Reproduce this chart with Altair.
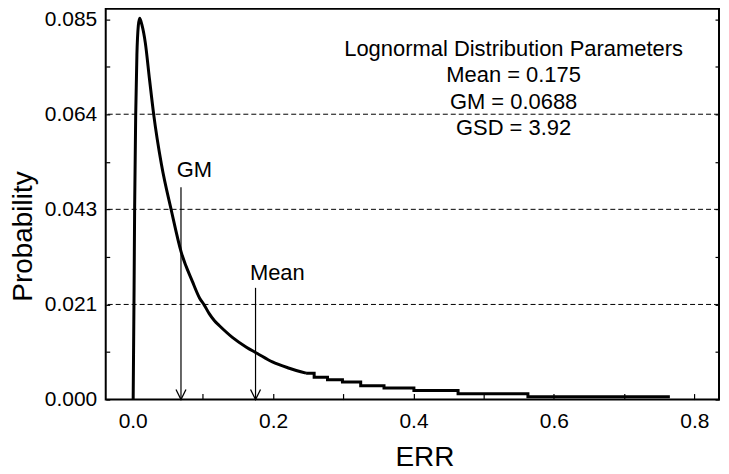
import altair as alt
import pandas as pd

# ---- data ----
# smooth part of the distribution curve
curve_x = [0.0007, 0.002, 0.0028, 0.0043, 0.006, 0.008, 0.010, 0.013, 0.018, 0.024,
           0.030, 0.041, 0.055, 0.069, 0.085, 0.0952, 0.102, 0.109, 0.1165, 0.1236,
           0.142, 0.162, 0.1776, 0.199, 0.223, 0.247]
curve_y = [0.0, 0.025, 0.043, 0.0636, 0.077, 0.0835, 0.0852, 0.0838, 0.0797, 0.0715,
           0.0636, 0.0525, 0.0423, 0.033, 0.0264, 0.0227, 0.0211, 0.0192, 0.0176, 0.0165,
           0.0139, 0.0117, 0.0103, 0.0084, 0.0070, 0.0059]
# stepped tail (step starts)
tail_x = [0.247, 0.2585, 0.2775, 0.2988, 0.3248, 0.358, 0.4006, 0.4635, 0.563, 0.7652]
tail_y = [0.0059, 0.0050, 0.0044, 0.0039, 0.0031, 0.0026, 0.0020, 0.0013, 0.0006, 0.0006]

# axes
y_major = [0.0, 0.02125, 0.0425, 0.06375, 0.085]
y_major_labels = ["0.000", "0.021", "0.043", "0.064", "0.085"]
y_minor = [0.010625, 0.031875, 0.053125, 0.074375]
grid_y = [0.02125, 0.0425, 0.06375]
x_major = [0.0, 0.2, 0.4, 0.6, 0.8]
x_major_labels = ["0.0", "0.2", "0.4", "0.6", "0.8"]
x_minor = [0.1, 0.3, 0.5, 0.7]
x_domain = [-0.0384, 0.8352]
y_domain = [0.0, 0.08734]

# markers
marker_names = ["GM", "Mean"]
marker_values = [0.0688, 0.175]
marker_arrow_top = [0.04746, 0.02496]
marker_label_x = [0.088, 0.206]
marker_label_y = [0.04969, 0.02674]

# parameter box
param_lines = ["Lognormal Distribution Parameters", "Mean = 0.175", "GM = 0.0688", "GSD = 3.92"]
param_x = [0.5426]
param_y = [0.07687]

FONT = "Liberation Sans"


def label_expr(values, labels, tol):
    expr = "''"
    for v, l in reversed(list(zip(values, labels))):
        expr = f"abs(datum.value - {v}) < {tol} ? '{l}' : ({expr})"
    return expr


curve_df = pd.DataFrame({"x": curve_x, "y": curve_y})
tail_df = pd.DataFrame({"x": tail_x, "y": tail_y})
marker_df = pd.DataFrame({"name": marker_names, "v": marker_values, "top": marker_arrow_top,
                          "lx": marker_label_x, "ly": marker_label_y,
                          "base": [0.0] * len(marker_names)})
param_df = pd.DataFrame({"x": param_x, "y": param_y})
grid_df = pd.DataFrame({"g": grid_y})

xscale = alt.Scale(domain=x_domain, nice=False, zero=False)
yscale = alt.Scale(domain=y_domain, nice=False, zero=False)

x_axis = alt.Axis(values=sorted(x_major + x_minor),
                  labelExpr=label_expr(x_major, x_major_labels, 1e-6),
                  tickSize=alt.ExprRef("-6"), labelPadding=17, grid=False, domain=False,
                  labelFontSize=21, titleFontSize=28,
                  titleX=319.5, titleY=66, titleBaseline="alphabetic")
y_axis = alt.Axis(values=sorted(y_major + y_minor),
                  labelExpr=label_expr(y_major, y_major_labels, 1e-6),
                  tickSize=alt.ExprRef("-4"), labelPadding=13, grid=False, domain=False,
                  labelFontSize=21, titleFontSize=28,
                  titleX=-74, titleY=228, titleBaseline="alphabetic", titleAngle=270)
y_axis_right = alt.Axis(values=sorted(y_major + y_minor), labels=False,
                        tickSize=alt.ExprRef("-4"), grid=False, domain=False, title=None,
                        orient="right")


def X(field):
    return alt.X(f"{field}:Q", scale=xscale, axis=x_axis, title="ERR")


def Y(field):
    return alt.Y(f"{field}:Q", scale=yscale, axis=y_axis, title="Probability")


curve = alt.Chart(curve_df).mark_line(color="black", strokeWidth=3, interpolate="monotone").encode(
    x=X("x"), y=Y("y"))
tail = alt.Chart(tail_df).mark_line(color="black", strokeWidth=3, interpolate="step-after").encode(
    x=X("x"), y=Y("y"))
arrows = alt.Chart(marker_df).mark_rule(color="black", strokeWidth=1.2).encode(
    x=X("v"), y=Y("top"), y2="base:Q")
heads = alt.Chart(marker_df).mark_point(shape="M-0.5,-1L0,0L0.5,-1", size=400, filled=False,
                                        strokeWidth=1.3, color="black", opacity=1).encode(
    x=X("v"), y=Y("base"))
mlabels = alt.Chart(marker_df).mark_text(font=FONT, fontSize=22, align="center",
                                          baseline="alphabetic", color="black").encode(
    x=X("lx"), y=Y("ly"), text="name:N")
params = alt.Chart(param_df).mark_text(font=FONT, fontSize=22, align="center",
                                        baseline="alphabetic", color="black",
                                        text=param_lines, lineHeight=26.7).encode(
    x=X("x"), y=Y("y"))

inner = alt.layer(curve, tail, arrows, heads, mlabels, params)

grid = alt.Chart(grid_df).mark_rule(color="black", strokeWidth=1, strokeDash=[5, 3]).encode(
    y=alt.Y("g:Q", scale=yscale, axis=y_axis_right))

chart = alt.layer(grid, inner).resolve_scale(y="independent").properties(
    width=615, height=392,
    autosize=alt.AutoSizeParams(type="none"),
    padding={"left": 98, "top": 0, "right": 2, "bottom": 74}
).configure_view(stroke="black", strokeWidth=2).configure_axis(
    labelFont=FONT, titleFont=FONT, labelColor="black", titleColor="black",
    titleFontWeight="normal", tickColor="black", tickWidth=1.2
).configure_text(font=FONT)

chart.save("out.html", embed_options={"renderer": "svg", "actions": False})
